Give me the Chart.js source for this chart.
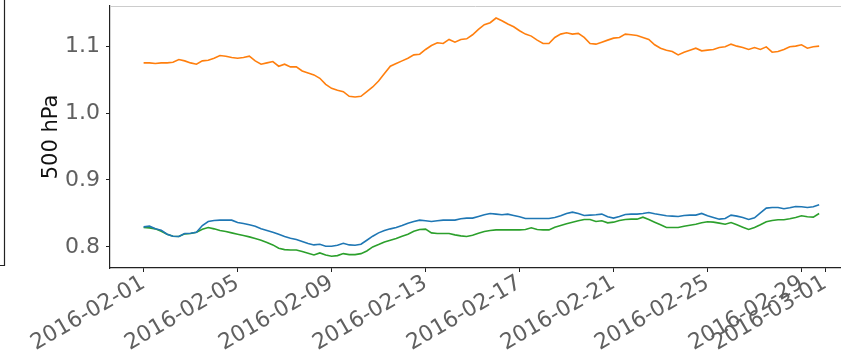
<!DOCTYPE html>
<html>
<head>
<meta charset="utf-8">
<title>500 hPa</title>
<script src="https://cdn.jsdelivr.net/npm/chart.js@4.4.1/dist/chart.umd.min.js"></script>
<style>
  html, body { margin: 0; padding: 0; background: #fff; }
  canvas { display: block; }
</style>
</head>
<body>
<canvas id="hpaChart" width="841" height="360"></canvas>
<script>
// 6-hourly series starting 2016-02-01 00:00
const STEP_DAYS = 0.25;

const seriesBlue = [
  0.830, 0.831, 0.827, 0.825, 0.819, 0.816, 0.8155, 0.820, 0.8205, 0.822,
  0.832, 0.838, 0.8395, 0.840, 0.840, 0.840, 0.8365, 0.835, 0.833, 0.831,
  0.827, 0.8245, 0.822, 0.819, 0.8155, 0.813, 0.811, 0.808, 0.805, 0.803,
  0.804, 0.801, 0.801, 0.8025, 0.8055, 0.803, 0.8025, 0.804, 0.810, 0.816,
  0.821, 0.8245, 0.827, 0.829, 0.832, 0.8355, 0.838, 0.840, 0.839, 0.838,
  0.839, 0.840, 0.840, 0.840, 0.842, 0.843, 0.843, 0.8455, 0.848, 0.850,
  0.849, 0.848, 0.849, 0.847, 0.845, 0.8425, 0.8425, 0.8425, 0.8425, 0.8425,
  0.844, 0.8465, 0.850, 0.852, 0.850, 0.847, 0.8475, 0.848, 0.849, 0.845,
  0.843, 0.8455, 0.8485, 0.849, 0.849, 0.850, 0.8515, 0.8495, 0.848, 0.8465,
  0.846, 0.8455, 0.847, 0.8475, 0.8475, 0.850, 0.8465, 0.844, 0.8415, 0.8425,
  0.8475, 0.846, 0.844, 0.841, 0.8435, 0.851, 0.858, 0.859, 0.859, 0.857,
  0.8585, 0.8605, 0.860, 0.859, 0.860, 0.863
];

const seriesOrange = [
  1.075, 1.075, 1.074, 1.075, 1.075, 1.076, 1.080, 1.078, 1.075, 1.073,
  1.078, 1.079, 1.082, 1.086, 1.085, 1.083, 1.082, 1.083, 1.085, 1.078,
  1.073, 1.075, 1.077, 1.070, 1.073, 1.069, 1.069, 1.063, 1.060, 1.057,
  1.052, 1.043, 1.037, 1.034, 1.032, 1.025, 1.024, 1.025, 1.032, 1.039,
  1.048, 1.059, 1.070, 1.074, 1.078, 1.082, 1.087, 1.088, 1.095, 1.101,
  1.105, 1.104, 1.110, 1.106, 1.110, 1.111, 1.117, 1.125, 1.132, 1.135,
  1.142, 1.138, 1.133, 1.129, 1.123, 1.118, 1.115, 1.109, 1.104, 1.104,
  1.113, 1.118, 1.120, 1.118, 1.119, 1.113, 1.104, 1.103, 1.106, 1.109,
  1.112, 1.113, 1.118, 1.117, 1.116, 1.113, 1.110, 1.102, 1.097, 1.094,
  1.092, 1.087, 1.091, 1.094, 1.097, 1.093, 1.094, 1.095, 1.098, 1.099,
  1.103, 1.100, 1.098, 1.095, 1.098, 1.095, 1.099, 1.091, 1.092, 1.095,
  1.099, 1.100, 1.102, 1.097, 1.099, 1.100
];

const seriesGreen = [
  0.829, 0.8285, 0.827, 0.8235, 0.819, 0.816, 0.8155, 0.8195, 0.820, 0.822,
  0.8265, 0.829, 0.827, 0.8245, 0.823, 0.821, 0.819, 0.817, 0.815, 0.8125,
  0.810, 0.8065, 0.803, 0.798, 0.796, 0.7955, 0.7955, 0.793, 0.7905, 0.788,
  0.791, 0.788, 0.786, 0.787, 0.790, 0.7885, 0.7885, 0.790, 0.794, 0.800,
  0.8035, 0.8075, 0.810, 0.8125, 0.816, 0.819, 0.8235, 0.826, 0.8265, 0.821,
  0.820, 0.820, 0.820, 0.818, 0.8165, 0.8155, 0.8175, 0.8205, 0.823, 0.8245,
  0.8255, 0.8255, 0.8255, 0.8255, 0.8255, 0.826, 0.8285, 0.826, 0.8255, 0.8255,
  0.8295, 0.832, 0.8345, 0.837, 0.839, 0.841, 0.841, 0.838, 0.839, 0.836,
  0.837, 0.8395, 0.841, 0.8415, 0.8415, 0.8445, 0.841, 0.837, 0.833, 0.829,
  0.829, 0.829, 0.831, 0.8325, 0.834, 0.836, 0.8375, 0.837, 0.8355, 0.834,
  0.8365, 0.833, 0.8295, 0.826, 0.829, 0.833, 0.8375, 0.8395, 0.8405, 0.8405,
  0.842, 0.844, 0.8465, 0.845, 0.8445, 0.850
];

// x tick positions (days after 2016-02-01) and their labels
const tickDays = [0, 4, 8, 12, 16, 20, 24, 28, 29];
const tickLabels = [
  '2016-02-01', '2016-02-05', '2016-02-09', '2016-02-13', '2016-02-17',
  '2016-02-21', '2016-02-25', '2016-02-29', '2016-03-01'
];
const yTicks = [0.8, 0.9, 1.0, 1.1];

function toPoints(values) {
  return values.map((v, i) => ({ x: i * STEP_DAYS, y: v }));
}

// spines that Chart.js does not draw on its own
const framePlugin = {
  id: 'frame',
  afterDraw(chart) {
    const ctx = chart.ctx;
    const a = chart.chartArea;
    ctx.save();
    ctx.strokeStyle = '#cccccc';
    ctx.lineWidth = 1;
    ctx.beginPath();
    ctx.moveTo(a.left, a.top + 0.5);
    ctx.lineTo(a.right, a.top + 0.5);
    ctx.stroke();

    // edge of the neighbouring panel
    ctx.strokeStyle = '#222222';
    ctx.lineWidth = 1.2;
    ctx.beginPath();
    ctx.moveTo(4.5, 0);
    ctx.lineTo(4.5, 265.5);
    ctx.lineTo(0, 265.5);
    ctx.stroke();
    ctx.restore();
  }
};

const tickFont = { family: 'DejaVu Sans', size: 22 };

new Chart(document.getElementById('hpaChart').getContext('2d'), {
  type: 'line',
  data: {
    datasets: [
      { data: toPoints(seriesBlue), borderColor: '#1f77b4' },
      { data: toPoints(seriesOrange), borderColor: '#ff7f0e' },
      { data: toPoints(seriesGreen), borderColor: '#2ca02c' }
    ]
  },
  options: {
    responsive: false,
    animation: false,
    devicePixelRatio: 1,
    layout: { padding: { left: 33, top: 6, right: 0, bottom: 0 } },
    elements: {
      line: { borderWidth: 1.6, tension: 0 },
      point: { radius: 0 }
    },
    plugins: {
      legend: { display: false },
      tooltip: { enabled: false }
    },
    scales: {
      x: {
        type: 'linear',
        min: -1.43,
        max: 29.68,
        afterFit(scale) {
          scale.height = 92;
          scale.paddingLeft = 0;
          scale.paddingRight = 0;
        },
        afterBuildTicks(scale) {
          scale.ticks = tickDays.map(d => ({ value: d }));
        },
        grid: {
          drawOnChartArea: false,
          drawTicks: true,
          tickLength: 4,
          color: '#222222'
        },
        border: { display: true, color: '#222222', width: 1.2 },
        ticks: {
          minRotation: 30,
          maxRotation: 30,
          autoSkip: false,
          padding: -2,
          color: '#606060',
          font: tickFont,
          callback(value) {
            const k = tickDays.indexOf(value);
            return k >= 0 ? tickLabels[k] : '';
          }
        }
      },
      y: {
        type: 'linear',
        min: 0.7685,
        max: 1.160,
        afterFit(scale) {
          scale.width = 77;
          scale.paddingTop = 0;
          scale.paddingBottom = 0;
        },
        afterBuildTicks(scale) {
          scale.ticks = yTicks.map(v => ({ value: v }));
        },
        grid: {
          drawOnChartArea: false,
          drawTicks: true,
          tickLength: 4,
          color: '#222222'
        },
        border: { display: true, color: '#222222', width: 1.2 },
        ticks: {
          padding: 6,
          color: '#606060',
          font: tickFont,
          callback(value) { return value.toFixed(1); }
        },
        title: {
          display: true,
          text: '500 hPa',
          color: '#111111',
          font: { family: 'DejaVu Sans', size: 21 },
          padding: { top: 6, bottom: 0 }
        }
      }
    }
  },
  plugins: [framePlugin]
});
</script>
</body>
</html>
